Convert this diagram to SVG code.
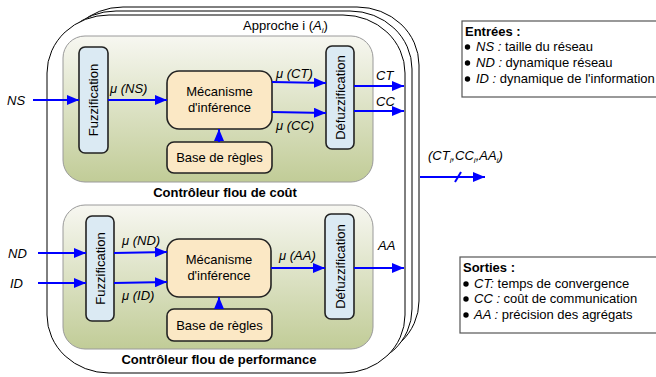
<svg xmlns="http://www.w3.org/2000/svg" width="656" height="377" viewBox="0 0 656 377">
<defs>
<linearGradient id="panelGrad" x1="0" y1="0" x2="0" y2="1">
<stop offset="0" stop-color="#f7f7f1"/>
<stop offset="1" stop-color="#c1cc97"/>
</linearGradient>
<marker id="arr" viewBox="0 0 12 10" refX="12" refY="5" markerWidth="12" markerHeight="10" markerUnits="userSpaceOnUse" orient="auto">
<path d="M0,0 L12,5 L0,10 Z" fill="#0000ff"/>
</marker>
<style>
text{font-family:"Liberation Sans",Arial,sans-serif;font-size:13px;fill:#000}
.it{font-style:italic}
.b{font-weight:bold}
.frame{fill:#fff;stroke:#000;stroke-width:1}
.panel{fill:url(#panelGrad);stroke:#9a9a9a;stroke-width:1}
.fz{fill:#dbeaf3;stroke:#222;stroke-width:1.6}
.mc{fill:#fbe8c5;stroke:#222;stroke-width:1.6}
.ar{stroke:#0000ff;stroke-width:2;fill:none;marker-end:url(#arr)}
.ln{stroke:#0000ff;stroke-width:2;fill:none}
.leg{fill:#fff;stroke:#555;stroke-width:1.2}
</style>
</defs>

<g id="frames">
<rect class="frame" x="61" y="7" width="358" height="352" rx="62" ry="58"/>
<rect class="frame" x="54" y="11" width="358" height="356" rx="62" ry="58"/>
<rect class="frame" x="47" y="15" width="358" height="358" rx="62" ry="58"/>
<text x="243" y="30">Approche i (<tspan class="it">A</tspan><tspan class="it" font-size="8" dy="3">i</tspan><tspan dy="-3">)</tspan></text>
</g>

<g id="panel-cout">
<rect class="panel" x="63" y="36" width="310" height="146" rx="22"/>
<text class="b" x="225" y="197" text-anchor="middle">Contrôleur flou de coût</text>
</g>
<g id="fuzz1">
<rect class="fz" x="79" y="47" width="29" height="106" rx="6"/>
<text transform="translate(98,100) rotate(-90)" text-anchor="middle">Fuzzification</text>
</g>
<g id="mec1">
<rect class="mc" x="167" y="71" width="105" height="58" rx="12"/>
<text x="219.5" y="96" text-anchor="middle">Mécanisme</text>
<text x="219.5" y="112" text-anchor="middle">d'inférence</text>
</g>
<g id="base1">
<rect class="mc" x="167" y="142" width="105" height="31" rx="7"/>
<text x="219.5" y="162" text-anchor="middle">Base de règles</text>
</g>
<g id="defuzz1">
<rect class="fz" x="326" y="46" width="28" height="103" rx="6"/>
<text transform="translate(345,97.5) rotate(-90)" text-anchor="middle">Défuzzification</text>
</g>

<g id="panel-perf">
<rect class="panel" x="63" y="205" width="310" height="144" rx="22"/>
<text class="b" x="219" y="364" text-anchor="middle">Contrôleur flou de performance</text>
</g>
<g id="fuzz2">
<rect class="fz" x="86" y="216" width="28" height="105" rx="6"/>
<text transform="translate(105,268.5) rotate(-90)" text-anchor="middle">Fuzzification</text>
</g>
<g id="mec2">
<rect class="mc" x="167" y="239" width="104" height="58" rx="12"/>
<text x="219" y="264" text-anchor="middle">Mécanisme</text>
<text x="219" y="280" text-anchor="middle">d'inférence</text>
</g>
<g id="base2">
<rect class="mc" x="167" y="309" width="105" height="32" rx="7"/>
<text x="219.5" y="330" text-anchor="middle">Base de règles</text>
</g>
<g id="defuzz2">
<rect class="fz" x="325" y="214" width="29" height="105" rx="6"/>
<text transform="translate(344.5,266.5) rotate(-90)" text-anchor="middle">Défuzzification</text>
</g>

<g id="connectors">
<line class="ar" x1="33" y1="100" x2="79" y2="100"/>
<line class="ar" x1="108" y1="100" x2="167" y2="100"/>
<line class="ar" x1="272" y1="82" x2="326" y2="83"/>
<line class="ar" x1="272" y1="112" x2="326" y2="113"/>
<line class="ar" x1="354" y1="86" x2="404" y2="86"/>
<line class="ar" x1="354" y1="111" x2="404" y2="111"/>
<line class="ar" x1="219" y1="142" x2="219" y2="129"/>

<line class="ar" x1="38" y1="253" x2="86" y2="253"/>
<line class="ar" x1="38" y1="283" x2="86" y2="283"/>
<line class="ar" x1="114" y1="253" x2="167" y2="252"/>
<line class="ar" x1="114" y1="283" x2="167" y2="282"/>
<line class="ar" x1="271" y1="268" x2="325" y2="268"/>
<line class="ar" x1="354" y1="268" x2="404" y2="268"/>
<line class="ar" x1="219" y1="309" x2="219" y2="297"/>

<line class="ar" x1="420" y1="177" x2="485" y2="177"/>
<line class="ln" x1="455" y1="182" x2="461" y2="172" stroke-width="1.5"/>

<text class="it" x="7" y="105">NS</text>
<text class="it" x="110" y="93">μ (NS)</text>
<text class="it" x="276" y="78">μ (CT)</text>
<text class="it" x="276" y="130">μ (CC)</text>
<text class="it" x="376" y="80">CT</text>
<text class="it" x="376" y="106">CC</text>

<text class="it" x="8" y="258">ND</text>
<text class="it" x="10" y="288">ID</text>
<text class="it" x="122" y="245">μ (ND)</text>
<text class="it" x="122" y="300">μ (ID)</text>
<text class="it" x="279" y="260">μ (AA)</text>
<text class="it" x="378" y="250">AA</text>

<text class="it" x="428" y="160">(CT<tspan font-size="8" dy="3">i</tspan><tspan dy="-3">,CC</tspan><tspan font-size="8" dy="3">i</tspan><tspan dy="-3">,AA</tspan><tspan font-size="8" dy="3">i</tspan><tspan dy="-3">)</tspan></text>
</g>

<g id="legend-entrees">
<rect class="leg" x="462" y="21" width="200" height="76"/>
<text class="b" x="465" y="36">Entrées :</text>
<circle cx="467.5" cy="47" r="2.7"/>
<circle cx="467.5" cy="63" r="2.7"/>
<circle cx="467.5" cy="79" r="2.7"/>
<text x="476" y="51"><tspan class="it">NS :</tspan> taille du réseau</text>
<text x="476" y="67"><tspan class="it">ND :</tspan> dynamique réseau</text>
<text x="476" y="83"><tspan class="it">ID :</tspan> dynamique de l'information</text>
</g>

<g id="legend-sorties">
<rect class="leg" x="460" y="257" width="202" height="76"/>
<text class="b" x="463" y="272">Sorties :</text>
<circle cx="466" cy="284" r="2.7"/>
<circle cx="466" cy="299" r="2.7"/>
<circle cx="466" cy="315" r="2.7"/>
<text x="474" y="288"><tspan class="it">CT:</tspan> temps de convergence</text>
<text x="474" y="303"><tspan class="it">CC :</tspan> coût de communication</text>
<text x="474" y="319"><tspan class="it">AA :</tspan> précision des agrégats</text>
</g>
</svg>
